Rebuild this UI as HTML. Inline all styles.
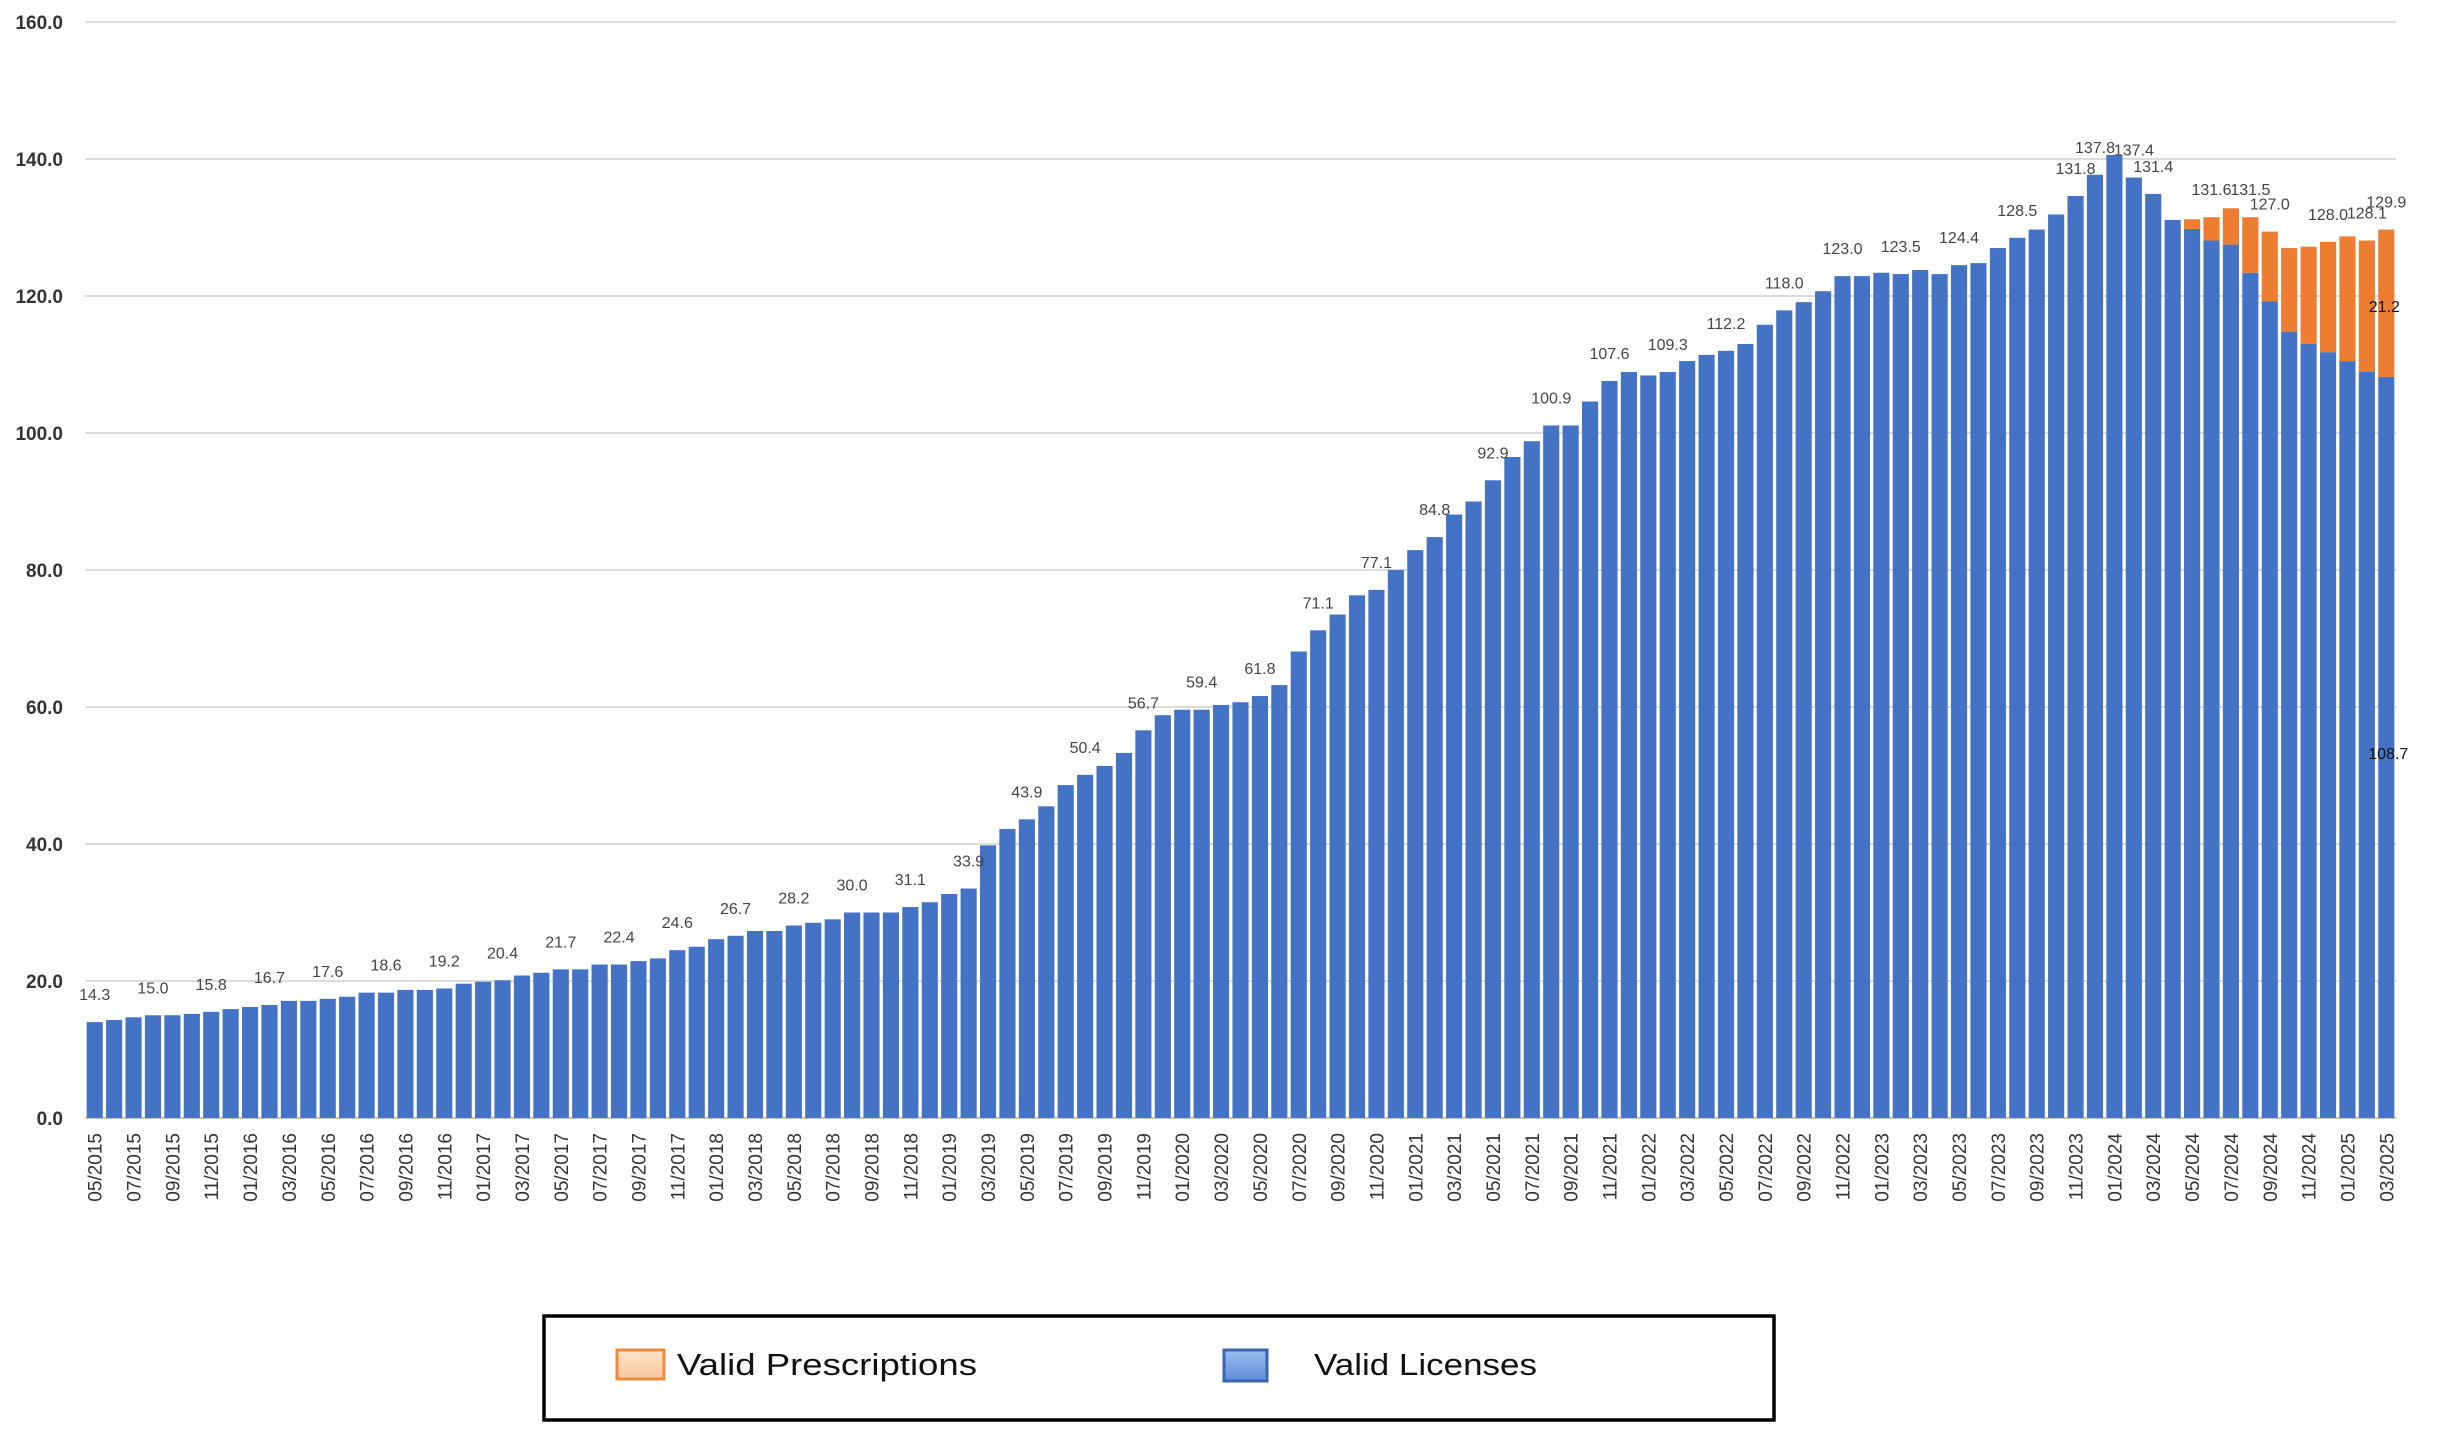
<!DOCTYPE html>
<html><head><meta charset="utf-8"><style>
html,body{margin:0;padding:0;background:#fff;width:2455px;height:1438px;overflow:hidden}
svg{display:block;font-family:"Liberation Sans",sans-serif}
</style></head><body>
<svg id="chart" width="2455" height="1438" viewBox="0 0 2455 1438" xmlns="http://www.w3.org/2000/svg">
<g id="grid"></g>
<g id="yaxis"></g>
<g id="bars"></g>
<g id="labels"></g>
<g id="xaxis"></g>
<g>
<defs>
<linearGradient id="gO" x1="0" y1="0" x2="0" y2="1"><stop offset="0" stop-color="#fde3c8"/><stop offset="1" stop-color="#f8c79c"/></linearGradient>
<linearGradient id="gB" x1="0" y1="0" x2="0" y2="1"><stop offset="0" stop-color="#9dbcf0"/><stop offset="1" stop-color="#5d8ddb"/></linearGradient>
</defs>
<rect x="544" y="1316" width="1230" height="104" fill="#fff" stroke="#000" stroke-width="3.5"/>
<rect x="617" y="1350" width="47" height="29" fill="url(#gO)" stroke="#ed8b3c" stroke-width="3"/>
<text x="677" y="1375" font-size="31" fill="#111" textLength="300" lengthAdjust="spacingAndGlyphs">Valid Prescriptions</text>
<rect x="1224" y="1350" width="43" height="31" fill="url(#gB)" stroke="#3a66b0" stroke-width="3"/>
<text x="1314" y="1375" font-size="31" fill="#111" textLength="223" lengthAdjust="spacingAndGlyphs">Valid Licenses</text>
</g>
</svg>
<script>
// Monthly series 05/2015 .. 03/2025 (119 months)
const licenses = [
14.0,14.3,14.7,15.0,15.0,15.2,15.5,15.9,16.2,16.5,17.1,17.1,17.4,17.7,18.3,18.3,18.7,18.7,18.9,19.6,
19.9,20.1,20.8,21.2,21.7,21.7,22.4,22.4,22.9,23.3,24.5,25.0,26.1,26.6,27.3,27.3,28.1,28.5,29.0,30.0,
30.0,30.0,30.8,31.5,32.7,33.5,39.8,42.2,43.6,45.5,48.6,50.1,51.4,53.3,56.6,58.8,59.6,59.6,60.3,60.7,
61.6,63.2,68.1,71.2,73.5,76.3,77.1,80.0,82.9,84.8,88.1,90.0,93.1,96.5,98.8,101.1,101.1,104.6,107.6,108.9,
108.4,108.9,110.5,111.4,112.0,113.0,115.8,117.9,119.1,120.7,122.9,122.9,123.4,123.2,123.8,123.2,124.5,124.8,127.0,128.5,
129.7,131.9,134.6,137.7,140.6,137.3,134.9,131.1,129.8,128.1,127.5,123.4,119.2,114.8,113.0,111.8,110.5,108.9,108.2];
const prescriptions = [
0,0,0,0,0,0,0,0,0,0,0,0,0,0,0,0,0,0,0,0,
0,0,0,0,0,0,0,0,0,0,0,0,0,0,0,0,0,0,0,0,
0,0,0,0,0,0,0,0,0,0,0,0,0,0,0,0,0,0,0,0,
0,0,0,0,0,0,0,0,0,0,0,0,0,0,0,0,0,0,0,0,
0,0,0,0,0,0,0,0,0,0,0,0,0,0,0,0,0,0,0,0,
0,0,0,0,0,0,0,0,1.4,3.4,5.3,8.1,10.2,12.2,14.2,16.1,18.2,19.2,21.5];
const labelBars = [1,4,7,10,13,16,19,22,25,28,31,34,37,40,43,46,49,52,55,58,61,64,67,70,73,76,79,82,85,88,91,94,97,100,103,104,106,107,110,112,113,116,118,119];
const labelText = ["14.3","15.0","15.8","16.7","17.6","18.6","19.2","20.4","21.7","22.4","24.6","26.7","28.2","30.0","31.1","33.9","43.9","50.4","56.7","59.4","61.8","71.1","77.1","84.8","92.9","100.9","107.6","109.3","112.2","118.0","123.0","123.5","124.4","128.5","131.8","137.8","137.4","131.4","131.6","131.5","127.0","128.0","128.1","129.9"];
const yTicks = [0,20,40,60,80,100,120,140,160];
const startYear = 2015, startMonth = 5;

const NS="http://www.w3.org/2000/svg";
const X0=85, X1=2396, Y0=1118, PPU=6.85;
const n=licenses.length, slot=(X1-X0)/n, bw=slot*0.83;
const xC=i=>X0+slot*(i+0.5);
const yS=v=>Y0-v*PPU;
function mk(tag,attrs,parent){const e=document.createElementNS(NS,tag);for(const k in attrs)e.setAttribute(k,attrs[k]);parent.appendChild(e);return e;}
const grid=document.getElementById('grid'),yax=document.getElementById('yaxis'),bars=document.getElementById('bars'),lab=document.getElementById('labels'),xax=document.getElementById('xaxis');
yTicks.forEach(t=>{
  const l=mk('line',{x1:X0,x2:X1,y1:yS(t),y2:yS(t),stroke:t===0?'#c8c8c8':'#dcdcdc','stroke-width':2},grid);
  
  
  const tx=mk('text',{x:63,y:yS(t)+7,'text-anchor':'end','font-size':19,fill:'#333','font-weight':'bold'},yax);
  tx.textContent=t.toFixed(1);
  
  
});
for(let i=0;i<n;i++){
  const b=mk('rect',{x:xC(i)-bw/2,y:yS(licenses[i]),width:bw,height:licenses[i]*PPU,fill:'#4472c4'},bars);
  
  
  if(prescriptions[i]>0){
    const o=mk('rect',{x:xC(i)-bw/2,y:yS(licenses[i]+prescriptions[i]),width:bw,height:prescriptions[i]*PPU,fill:'#ed7d31'},bars);
    
    
  }
  if(i%2===0){
    const m=(startMonth-1+i)%12+1, yr=startYear+Math.floor((startMonth-1+i)/12);
    const cx=xC(i)+7, cy=1133;
    const t=mk('text',{x:cx,y:cy,'text-anchor':'end','font-size':19,fill:'#333',transform:`rotate(-90 ${cx} ${cy})`},xax);
    t.textContent=String(m).padStart(2,'0')+'/'+yr;
    
    
  }
}
labelBars.forEach((b,k)=>{
  const i=b-1, tot=licenses[i]+prescriptions[i];
  const t=mk('text',{x:xC(i),y:yS(tot)-22,'text-anchor':'middle','font-size':16,fill:'#444'},lab);
  t.textContent=labelText[k];
  
  
});
const tl=mk('text',{x:xC(n-1)+2,y:yS(licenses[n-1])+382,'text-anchor':'middle','font-size':16,fill:'#111'},lab);
tl.textContent='108.7';


const tp=mk('text',{x:xC(n-1)-2,y:312,'text-anchor':'middle','font-size':16,fill:'#111'},lab);
tp.textContent='21.2';


</script>
</body></html>
